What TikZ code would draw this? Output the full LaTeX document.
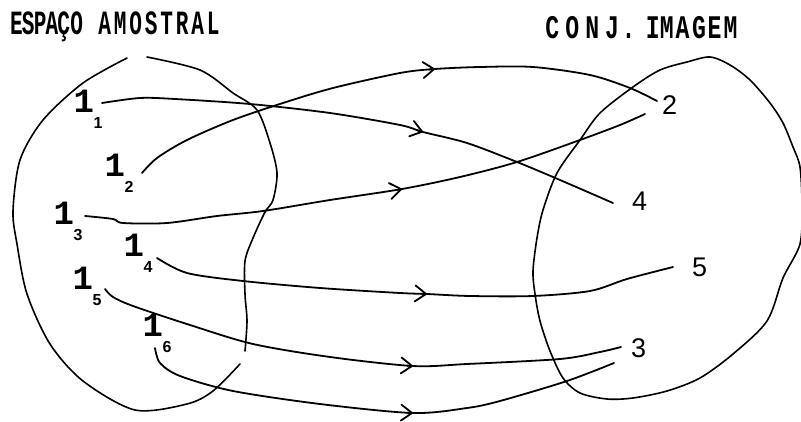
\documentclass[tikz,border=0pt]{standalone}
\usepackage{fontspec}
\setmainfont{Liberation Sans}
\newfontfamily\monofnt{Liberation Mono}
\usetikzlibrary{arrows.meta}
\newcommand\onelab[1]{1\kern-0.5pt\raisebox{-16pt}{\rmfamily\bfseries\fontsize{16}{16}\selectfont #1}}
\begin{document}
\begin{tikzpicture}[x=1pt,y=-1pt, line cap=round, line join=round,
  curve/.style={line width=1.8pt},
  blob/.style={line width=1.6pt},
  barb/.style={line width=1.8pt, -{Straight Barb[length=11pt,width=16pt,round]}},
  onelbl/.style={inner sep=0pt, anchor=base west, font=\monofnt\bfseries\fontsize{34}{34}\selectfont},
  imglbl/.style={inner sep=0pt, anchor=base west, font=\rmfamily\fontsize{27}{27}\selectfont},
  ttl/.style={inner sep=0pt, anchor=base west, font=\monofnt\bfseries\fontsize{34}{34}\selectfont}
]
\fill[white] (0,0) rectangle (801,422);
\useasboundingbox (0,0) rectangle (801,422);

% titles
\node[ttl] (tA) at (10,35) {\scalebox{0.62}[1]{E\kern-1.4pt S\kern-1.4pt P\kern-1.4pt A\kern-1.4pt Ç\kern0.6pt O\kern4.4pt\ A\kern4.6pt M\kern4.6pt O\kern4.6pt S\kern4.6pt T\kern4.6pt R\kern4.6pt A\kern4.6pt L}};
\node[ttl, font=\monofnt\bfseries\fontsize{33}{33}\selectfont] (tB) at (545.2,39) {\scalebox{0.7}[1]{C\kern8.7pt O\kern8.7pt N\kern8.7pt J\kern3.7pt .\kern-5pt\ I\kern0pt M\kern3pt A\kern3.7pt G\kern2.3pt E\kern3pt M}};

% blobs
\draw[blob] plot[smooth] coordinates {(147,57) (200,70) (233,93) (257,110) (270,143) (277,173) (273,200) (265,212) (253,238) (245,261) (245,294) (247,321) (245,351)};
\draw[blob] plot[smooth] coordinates {(240,364) (213,391) (187,404) (135,410) (83,381) (50,344) (27,294) (17,244) (13,211) (20,160) (43,120) (83,83) (127,58)};
\draw[blob] plot[smooth cycle] coordinates {(543,210) (557,173) (580,140) (600,113) (633,87) (660,70) (687,62) (710,57) (730,65) (750,80) (770,103) (783,123) (793,147) (800,167) (802,205) (800,244) (783,278) (767,321) (733,354) (700,378) (667,391) (633,398) (607,399) (580,393) (563,378) (550,351) (540,321) (535,294) (533,271) (537,238)};

% labels
\node[onelbl] (L1) at (73.5,113) {\onelab{1}};
\node[onelbl] (L2) at (104.5,177) {\onelab{2}};
\node[onelbl] (L3) at (53.5,225) {\onelab{3}};
\node[onelbl] (L4) at (123.5,257) {\onelab{4}};
\node[onelbl] (L5) at (72.5,290) {\onelab{5}};
\node[onelbl] (L6) at (142.5,337) {\onelab{6}};
\node[imglbl] (R2) at (662,115) {2};
\node[imglbl] (R4) at (632,211) {4};
\node[imglbl] (R5) at (692,277) {5};
\node[imglbl] (R3) at (631,357) {3};

% connector ends
\coordinate (s1) at (102,103); \coordinate (e1) at (613,203);
\coordinate (s2) at (142,173); \coordinate (e2) at (657,101);
\coordinate (s3) at (85,216);  \coordinate (e3) at (645,114);
\coordinate (s4) at (157,258); \coordinate (e4) at (673,267);
\coordinate (s5) at (105,289); \coordinate (e5) at (621,347);
\coordinate (s6) at (155,348); \coordinate (e6) at (614,363);

% connectors
\draw[curve] plot[smooth] coordinates {(s1) (140,98) (175,99) (250,104) (330,113) (400,125) (423,132) (467,143) (517,162) (560,180) (e1)};
\draw[curve] plot[smooth] coordinates {(s2) (157,158) (187,140) (233,120) (283,103) (333,88) (400,73) (435,69) (480,67) (533,67) (590,75) (630,88) (e2)};
\draw[curve] plot[smooth] coordinates {(s3) (113,219) (123,223) (167,223) (217,216) (263,211) (330,200) (402,189) (460,177) (517,162) (580,140) (620,125) (e3)};
\draw[curve] plot[smooth] coordinates {(s4) (187,273) (243,281) (320,288) (400,293) (427,294) (470,296) (533,296) (590,291) (627,279) (e4)};
\draw[curve] plot[smooth] coordinates {(s5) (113,297) (133,306) (190,325) (253,344) (330,357) (413,366) (467,364) (560,359) (600,352) (e5)};
\draw[curve] plot[smooth] coordinates {(s6) (160,363) (180,376) (233,391) (320,404) (413,413) (467,408) (500,401) (567,381) (e6)};

% arrowheads
\draw[barb] (417.3,130.3) -- (423,132);
\draw[barb] (429,69.5) -- (435,69);
\draw[barb] (396.1,190) -- (402,189);
\draw[barb] (421,293.7) -- (427,294);
\draw[barb] (407,365.7) -- (413,366);
\draw[barb] (407,412.8) -- (413,413);
\end{tikzpicture}
\end{document}
